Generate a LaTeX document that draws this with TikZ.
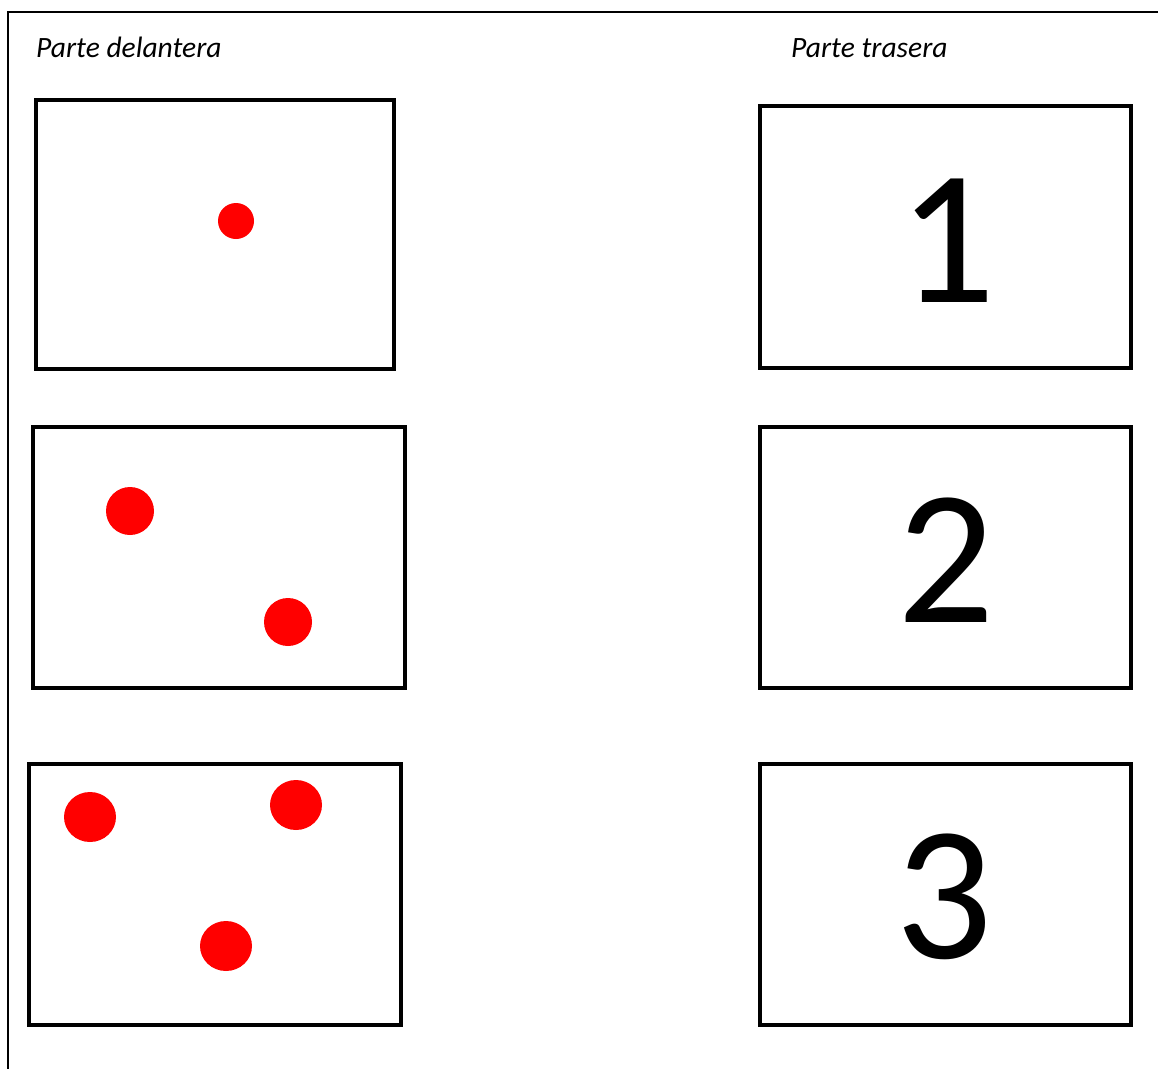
\documentclass[tikz,border=0pt]{standalone}
\usepackage{fontspec}
\setmainfont{Carlito}
\definecolor{dotred}{RGB}{255,0,0}
\begin{document}
\begin{tikzpicture}[x=1pt,y=-1pt,
  card/.style={draw=black,line width=3.2pt},
  dot/.style={fill=dotred,draw=none},
  side/.style={anchor=base west,font=\fontsize{29.5}{34}\selectfont\itshape},
  digit/.style={font=\fontsize{192}{200}\selectfont}]
\useasboundingbox (0,0) rectangle (1158,1068);
\fill[white] (0,0) rectangle (1158,1068);
% frame
\draw[line width=2pt] (1160,12) -- (8,12) -- (8,1070);
% headers
\node[side,inner sep=0pt] (hfront) at (36,57) {Parte delantera};
\node[side,inner sep=0pt] (hback) at (791,57) {Parte trasera};
% front cards
\draw[card] (36,100) rectangle (394,369);
\draw[card] (33,427) rectangle (405,688);
\draw[card] (29,764) rectangle (401,1025);
% dots
\fill[dot] (236,221) ellipse [x radius=18, y radius=18];
\fill[dot] (130,511) ellipse [x radius=24, y radius=24];
\fill[dot] (288,622) ellipse [x radius=24, y radius=24];
\fill[dot] (90,817) ellipse [x radius=26, y radius=25];
\fill[dot] (296,805) ellipse [x radius=26, y radius=25];
\fill[dot] (226,946) ellipse [x radius=26, y radius=25];
% back cards
\draw[card] (760,106) rectangle (1131,368);
\draw[card] (760,427) rectangle (1131,688);
\draw[card] (760,764) rectangle (1131,1025);
\node[digit,anchor=base] (d1) at (947,302) {1};
\node[digit,anchor=base] (d2) at (946,622) {2};
\node[digit,anchor=base] (d3) at (944,958) {3};
\end{tikzpicture}
\end{document}
